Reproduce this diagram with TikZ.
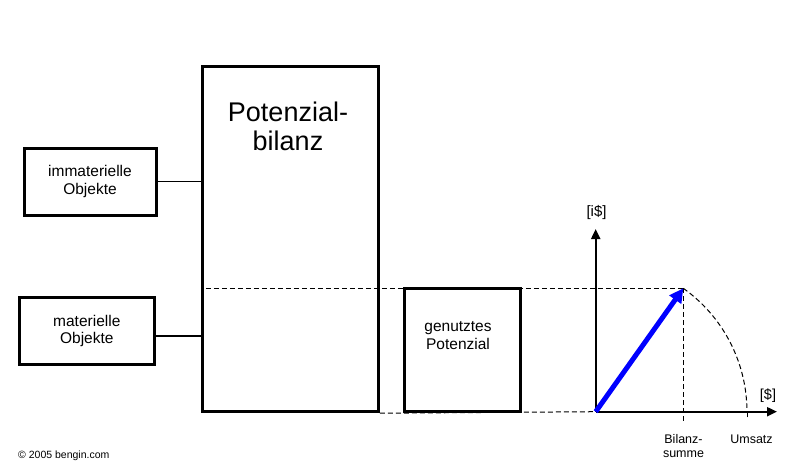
\documentclass[tikz,border=0pt]{standalone}
\usepackage{fontspec}
\setmainfont{Liberation Sans}
\usepackage{tikz}
\usetikzlibrary{arrows.meta}
\usetikzlibrary{calc}

\begin{document}
\begin{tikzpicture}[x=1pt,y=-1pt,
    box/.style={draw,line width=3pt,inner sep=0pt},
    txt/.style={align=center,inner sep=0pt,font=\fontsize{15.5}{17.5}\selectfont},
    conn/.style={line width=1.5pt},
    dashln/.style={line width=1pt,dash pattern=on 5pt off 3pt},
    axis/.style={line width=2pt,-{Triangle[length=10pt,width=9pt]}}]
    \useasboundingbox (0,0) rectangle (798,471);
    % boxes on the left
    \node[box,txt,minimum width=132pt,minimum height=67pt] (immat) at (90,181.5) {immaterielle\\Objekte};
    \node[box,txt,minimum width=135pt,minimum height=67pt] (mat) at (86.8,330.8) {materielle\\Objekte};
    \node[box,minimum width=176pt,minimum height=345pt] (bal) at (290.3,239.2) {};
    \node[align=center,inner sep=0pt,anchor=north,font=\fontsize{27}{29}\selectfont] (baltxt) at (288,102) {Potenzial-\\bilanz};
    \node[box,minimum width=116pt,minimum height=123pt] (gen) at (462,349.5) {};
    \node[txt,anchor=north] (gentxt) at (458,321.5) {genutztes\\Potenzial};
    \draw[conn] (immat.east) -- (immat.east -| bal.west);
    \draw[conn] ([yshift=-5pt]mat.east) -- ([yshift=-5pt]mat.east -| bal.west);
    % diagram
    \coordinate (O) at (595.7,411.7);
    \coordinate (tip) at (683.3,288.3);
    \coordinate (bs) at (683.3,421.7);
    \coordinate (ums) at (747.3,417.3);
    \coordinate (yend) at (595.7,229);
    \coordinate (xend) at (777,411.7);
    \draw[dashln] ([xshift=5pt]bal.west |- tip) -- (tip);
    \draw[dashln] (bal.south east) -- (O);
    \draw[dashln] (tip) -- (bs);
    \draw[dashln] (tip) arc[start angle=-54.6,end angle=-1.4,radius=151.3];
    \draw[axis] (O) -- (yend);
    \draw[axis] (O) -- (xend);
    \draw[conn] (ums) -- (ums |- O);
    \draw[line width=5pt,blue,-{Triangle[length=14pt,width=14pt]}] (O) -- (tip);
    \node[anchor=base,inner sep=0pt,font=\fontsize{15}{16}\selectfont] (ylab) at (596.5,216) {[i\$]};
    \node[anchor=base,inner sep=0pt,font=\fontsize{14.5}{16}\selectfont] (xlab) at (768,399) {[\$]};
    \node[align=center,anchor=north,inner sep=0pt,font=\fontsize{12.5}{14}\selectfont] (bslab) at (683.5,434.5) {Bilanz-\\summe};
    \node[anchor=base,inner sep=0pt,font=\fontsize{12.5}{14}\selectfont] (umslab) at (751.5,443.5) {Umsatz};
    \node[anchor=base west,inner sep=0pt,font=\fontsize{10.5}{12}\selectfont] (copy) at (18,458) {\textcopyright{} 2005 bengin.com};
\end{tikzpicture}
\end{document}
